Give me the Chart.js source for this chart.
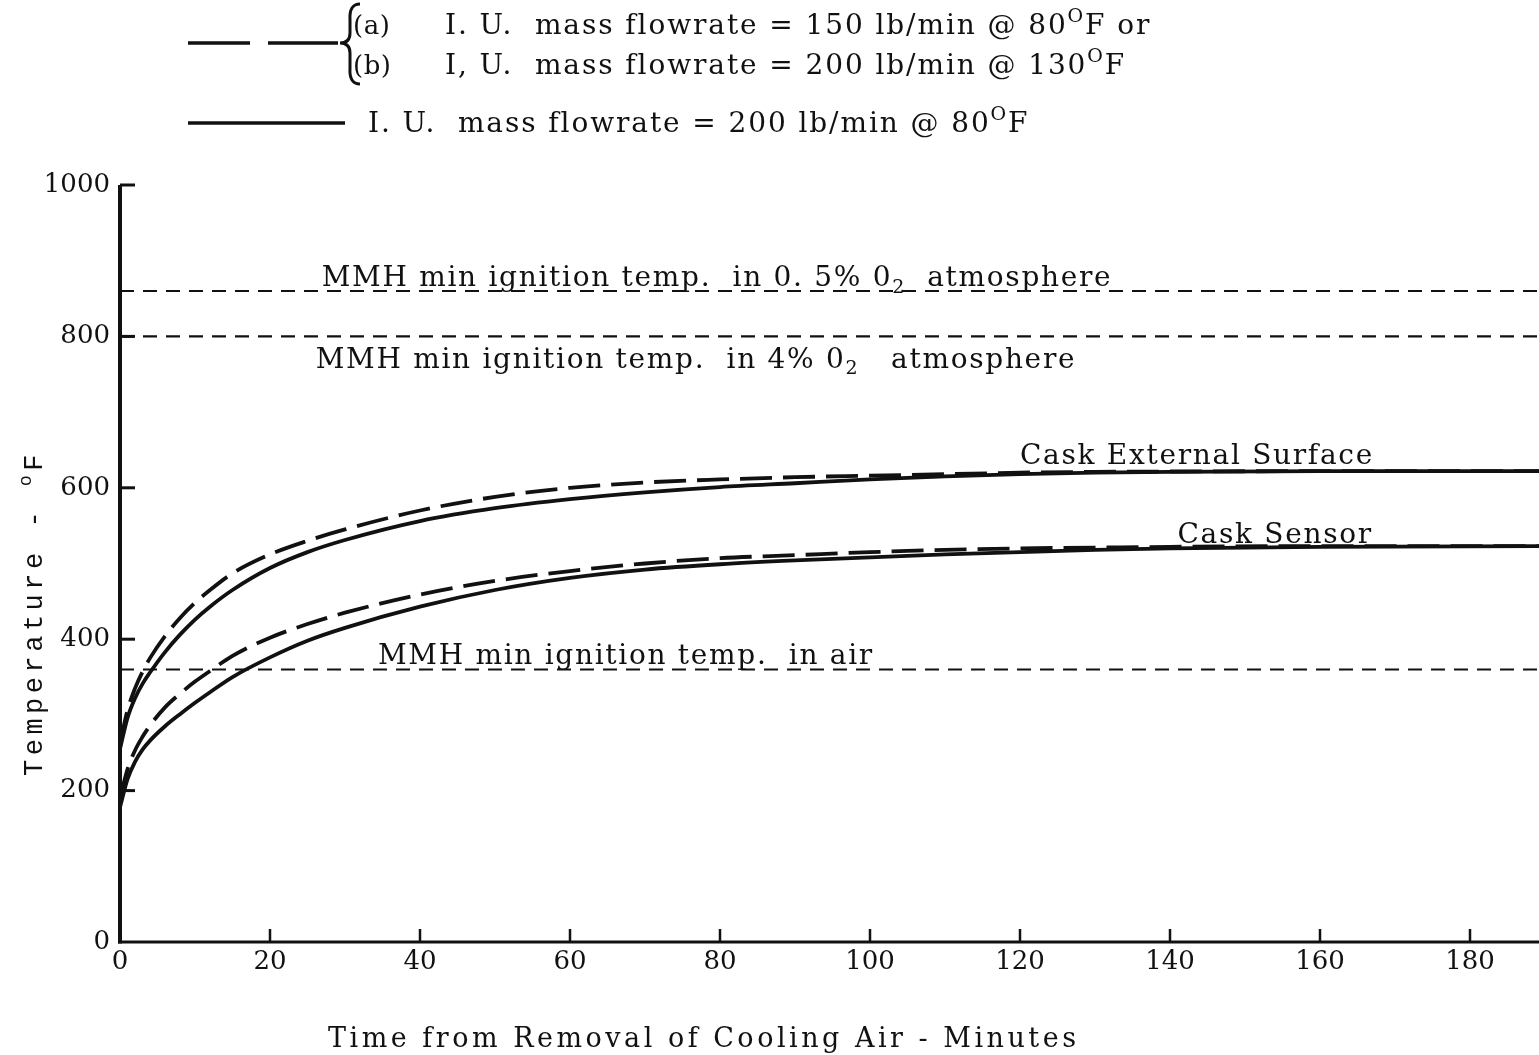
<!DOCTYPE html>
<html>
<head>
<meta charset="utf-8">
<script src="https://cdn.jsdelivr.net/npm/chart.js@4.4.1/dist/chart.umd.min.js"></script>
<style>
  html, body { margin: 0; padding: 0; background: #fff; }
  #wrap { width: 1539px; height: 1055px; }
</style>
</head>
<body>
<div id="wrap"><canvas id="c" width="1539" height="1055"></canvas></div>
<script>
// ---------------- data ----------------
const times        = [0, 1, 2, 3, 4, 6, 8, 10, 12, 15, 20, 25, 30, 40, 50, 60, 70, 80, 90, 100, 110, 120, 130, 140, 160, 189.2];
const extSolid     = [255, 296, 322, 341, 356, 383, 406, 426, 443, 465, 494, 515, 531, 556, 573, 585, 594, 601, 606, 611, 615, 618, 620, 621, 622, 622];
const extDashed    = [262, 306, 335, 357, 375, 404, 428, 448, 465, 487, 512, 530, 545, 570, 588, 600, 607, 611, 614, 616, 618, 620, 621, 621.5, 622, 622];
const senSolid     = [178, 215, 238, 254, 266, 285, 301, 316, 330, 350, 376, 398, 415, 443, 465, 481, 492, 499, 504, 508, 512, 515, 518, 520, 522, 523];
const senDashed    = [190, 228, 253, 271, 286, 310, 328, 344, 358, 378, 402, 420, 435, 459, 477, 490, 500, 507, 511, 515, 518, 520, 521, 522, 523, 523];
const refLevels    = [860, 800, 360];
const xRange       = [0, 189.2];
const yRange       = [0, 1000];
const xTickStep    = 20;
const yTickStep    = 200;

const refLabels = [
  { x: 26.9, y: 866, segs: [{t:'MMH min ignition temp.  in 0. 5% 0'},{t:'2',sub:true},{t:'  atmosphere'}] },
  { x: 26.1, y: 758, segs: [{t:'MMH min ignition temp.  in 4% 0'},{t:'2',sub:true},{t:'   atmosphere'}] },
  { x: 34.4, y: 367, segs: [{t:'MMH min ignition temp.  in air'}] },
  { x: 120,  y: 632, segs: [{t:'Cask External Surface'}] },
  { x: 141,  y: 527, segs: [{t:'Cask Sensor'}] }
];
const legendDashedA = [{t:'I. U.  mass flowrate = 150 lb/min @ 80'},{t:'O',sup:true},{t:'F or'}];
const legendDashedB = [{t:'I, U.  mass flowrate = 200 lb/min @ 130'},{t:'O',sup:true},{t:'F'}];
const legendSolid   = [{t:'I. U.  mass flowrate = 200 lb/min @ 80'},{t:'O',sup:true},{t:'F'}];
const xTitle = 'Time from Removal of Cooling Air - Minutes';
const yTitle = [{t:'Temperature - '},{t:'o',sup:true},{t:'F'}];

// ---------------- helpers ----------------
const SERIF = '"DejaVu Serif", "Liberation Serif", serif';
const MONO  = '"Liberation Mono", "DejaVu Sans Mono", monospace';

function drawRich(ctx, x, y, segs, size, family, spacing) {
  let cx = x;
  ctx.textBaseline = 'alphabetic';
  ctx.textAlign = 'left';
  for (const s of segs) {
    const fs = (s.sup || s.sub) ? size * 0.68 : size;
    ctx.font = fs + 'px ' + family;
    ctx.letterSpacing = spacing + 'px';
    let dy = 0;
    if (s.sup) dy = -size * 0.42;
    if (s.sub) dy = size * 0.22;
    ctx.fillText(s.t, cx, y + dy);
    cx += ctx.measureText(s.t).width;
  }
  ctx.letterSpacing = '0px';
}

function pts(vals) { return times.map((t, i) => ({ x: t, y: vals[i] })); }
function flat(v) { return [{ x: xRange[0], y: v }, { x: xRange[1], y: v }]; }

const INK = '#111';

const datasets = [
  { data: pts(extSolid),  borderColor: INK, borderWidth: 3.8, cubicInterpolationMode: 'monotone' },
  { data: pts(extDashed), borderColor: INK, borderWidth: 3.8, borderDash: [32, 11], cubicInterpolationMode: 'monotone' },
  { data: pts(senSolid),  borderColor: INK, borderWidth: 3.8, cubicInterpolationMode: 'monotone' },
  { data: pts(senDashed), borderColor: INK, borderWidth: 3.8, borderDash: [32, 11], cubicInterpolationMode: 'monotone' }
].concat(refLevels.map(v => ({ data: flat(v), borderColor: INK, borderWidth: 2.2, borderDash: [14, 9] })));

datasets.forEach(d => { d.pointRadius = 0; d.fill = false; });

const decor = {
  id: 'decor',
  afterDatasetsDraw(chart) {
    const ctx = chart.ctx;
    const xs = chart.scales.x, ys = chart.scales.y;
    const a = chart.chartArea;
    ctx.save();
    ctx.fillStyle = INK;
    ctx.strokeStyle = INK;
    ctx.setLineDash([]);

    // axis lines
    ctx.lineCap = 'butt';
    ctx.lineWidth = 4;
    ctx.beginPath(); ctx.moveTo(a.left, ys.getPixelForValue(yRange[1])); ctx.lineTo(a.left, a.bottom + 1.5); ctx.stroke();
    ctx.lineWidth = 3;
    ctx.beginPath(); ctx.moveTo(a.left - 2, a.bottom); ctx.lineTo(a.right, a.bottom); ctx.stroke();

    // inward tick marks
    ctx.lineWidth = 2.5;
    xs.ticks.forEach(t => {
      if (t.value === 0) return;
      const px = xs.getPixelForValue(t.value);
      ctx.beginPath(); ctx.moveTo(px, a.bottom); ctx.lineTo(px, a.bottom - 13); ctx.stroke();
    });
    ctx.lineWidth = 3;
    ys.ticks.forEach(t => {
      if (t.value === 0) return;
      const py = ys.getPixelForValue(t.value);
      ctx.beginPath(); ctx.moveTo(a.left, py); ctx.lineTo(a.left + 15, py); ctx.stroke();
    });

    // reference / curve labels
    refLabels.forEach(l => {
      drawRich(ctx, xs.getPixelForValue(l.x), ys.getPixelForValue(l.y), l.segs, 28, SERIF, 1.7);
    });

    // axis titles
    drawRich(ctx, 328, 1047, [{t: xTitle}], 27, SERIF, 3.5);
    ctx.save();
    ctx.translate(42, 776);
    ctx.rotate(-Math.PI / 2);
    drawRich(ctx, 0, 0, yTitle, 27, MONO, 4.5);
    ctx.restore();

    // legend
    ctx.lineWidth = 3.5;
    ctx.beginPath(); ctx.moveTo(188, 43); ctx.lineTo(250, 43); ctx.moveTo(268, 43); ctx.lineTo(338, 43); ctx.stroke();
    ctx.beginPath(); ctx.moveTo(188, 123); ctx.lineTo(345, 123); ctx.stroke();
    // brace
    ctx.lineWidth = 3;
    ctx.beginPath();
    ctx.moveTo(360, 4);
    ctx.quadraticCurveTo(349, 4, 350, 20);
    ctx.lineTo(350, 33);
    ctx.quadraticCurveTo(350, 43, 340, 43);
    ctx.quadraticCurveTo(350, 43, 350, 53);
    ctx.lineTo(350, 68);
    ctx.quadraticCurveTo(349, 84, 360, 84);
    ctx.stroke();
    drawRich(ctx, 353, 34, [{t:'(a)'}], 26, SERIF, 0.5);
    drawRich(ctx, 353, 74, [{t:'(b)'}], 26, SERIF, 0.5);
    drawRich(ctx, 445, 34, legendDashedA, 28, SERIF, 1.9);
    drawRich(ctx, 445, 74, legendDashedB, 28, SERIF, 1.9);
    drawRich(ctx, 368, 132, legendSolid, 28, SERIF, 1.9);

    ctx.restore();
  }
};

new Chart(document.getElementById('c'), {
  type: 'line',
  data: { datasets },
  options: {
    responsive: false,
    animation: false,
    devicePixelRatio: 1,
    layout: { padding: { top: 185, left: 0, right: 0, bottom: 0 } },
    plugins: { legend: { display: false }, tooltip: { enabled: false }, title: { display: false } },
    elements: { line: { borderCapStyle: 'butt' } },
    scales: {
      x: {
        type: 'linear', min: xRange[0], max: xRange[1],
        grid: { display: false, drawTicks: false },
        border: { display: false },
        ticks: { stepSize: xTickStep, includeBounds: false, padding: 5, color: INK, maxRotation: 0,
                 font: { family: SERIF, size: 26 }, callback: v => String(v) },
        afterFit: s => { s.height = 113; }
      },
      y: {
        min: yRange[0], max: yRange[1],
        grid: { display: false, drawTicks: false },
        border: { display: false },
        ticks: { stepSize: yTickStep, padding: 10, color: INK, font: { family: SERIF, size: 26 },
                 callback: v => String(v) },
        afterFit: s => { s.width = 120; }
      }
    }
  },
  plugins: [decor]
});
</script>
</body>
</html>
